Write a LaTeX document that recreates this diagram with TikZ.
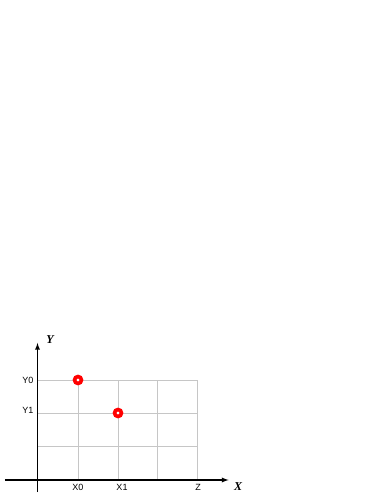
\documentclass[tikz,border=0pt]{standalone}
\usepackage{fontspec}
\setmainfont{Liberation Sans}
\newfontfamily\axisfont{Liberation Serif}
\usepackage{tikz}
\usetikzlibrary{arrows,positioning,calc}

\begin{document}
\begin{tikzpicture}[
    x=1pt, y=1pt,
    axis/.style={->, line width=1.3pt, >=latex},
    gridline/.style={gray!45, line width=0.5pt},
    tick/.style={font=\fontsize{9}{10}\selectfont, inner sep=0pt},
    axlabel/.style={font=\axisfont\bfseries\itshape\fontsize{12}{13}\selectfont, inner sep=0pt},
    point/.style={circle, draw=red, line width=3.6pt, fill=white, minimum size=7pt, inner sep=0pt},
]
% page frame
\useasboundingbox (-37.5,-15) rectangle (345.5,480);

% axes
\coordinate (xstart) at (-32.5,0);
\coordinate (xend) at (191,0);
\coordinate (ystart) at (0,-12);
\coordinate (yend) at (0,137);

% grid
\foreach \gx in {40.5,80.5,120,160}
  \draw[gridline] (\gx,0) -- (\gx,100);
\foreach \gy in {33.5,67,100}
  \draw[gridline] (0,\gy) -- (160,\gy);

\draw[axis] (xstart) -- (xend);
\draw[axis] (ystart) -- (yend);

% axis names
\node[axlabel] (xname) at (200.5,-6.5) {X};
\node[axlabel] (yname) at (12.5,140) {Y};

% tick labels
\node[tick, anchor=east] (y0) at (-4,100) {Y0};
\node[tick, anchor=east] (y1) at (-4,70) {Y1};
\node[tick] (x0) at (40.5,-7.5) {X0};
\node[tick] (x1) at (84.5,-7.5) {X1};
\node[tick] (z) at (160.5,-7.5) {Z};

% points
\node[point] (p0) at (40.5,100) {};
\node[point] (p1) at (80.5,67) {};

\end{tikzpicture}
\end{document}
